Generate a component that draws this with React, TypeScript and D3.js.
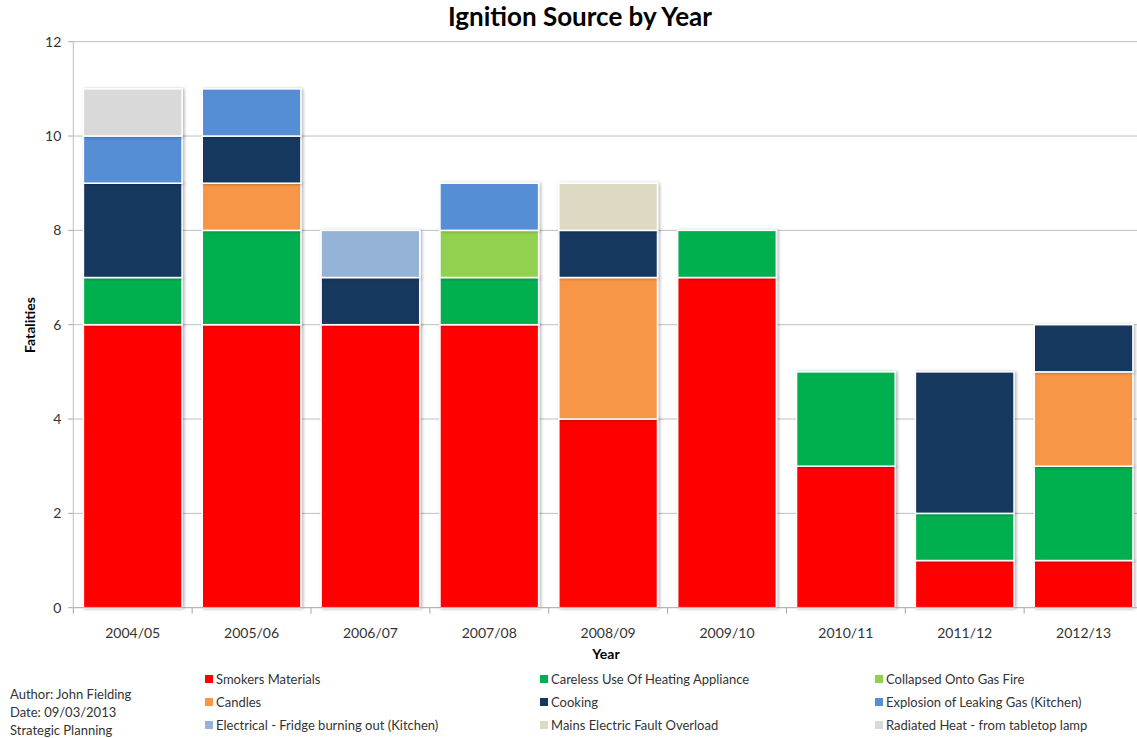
import React from "react";
import * as d3 from "d3";

const years = ["2004/05", "2005/06", "2006/07", "2007/08", "2008/09", "2009/10", "2010/11", "2011/12", "2012/13"];
const seriesNames = [
  "Smokers Materials",
  "Careless Use Of Heating Appliance",
  "Collapsed Onto Gas Fire",
  "Candles",
  "Cooking",
  "Explosion of Leaking Gas (Kitchen)",
  "Electrical - Fridge burning out (Kitchen)",
  "Mains Electric Fault Overload",
  "Radiated Heat - from tabletop lamp",
];
const smokers = [6, 6, 6, 6, 4, 7, 3, 1, 1];
const careless = [1, 2, 0, 1, 0, 1, 2, 1, 2];
const collapsed = [0, 0, 0, 1, 0, 0, 0, 0, 0];
const candles = [0, 1, 0, 0, 3, 0, 0, 0, 2];
const cooking = [2, 1, 1, 0, 1, 0, 0, 3, 1];
const explosion = [1, 1, 0, 1, 0, 0, 0, 0, 0];
const electrical = [0, 0, 1, 0, 0, 0, 0, 0, 0];
const mains = [0, 0, 0, 0, 1, 0, 0, 0, 0];
const radiated = [1, 0, 0, 0, 0, 0, 0, 0, 0];
const seriesValues = [smokers, careless, collapsed, candles, cooking, explosion, electrical, mains, radiated];
const colors = ["#FF0000", "#00B050", "#92D050", "#F79646", "#17375E", "#558ED5", "#95B3D7", "#DDD9C3", "#D9D9D9"];
const yTicks = [0, 2, 4, 6, 8, 10, 12];

const legendOrder = [0, 1, 2, 3, 4, 5, 6, 7, 8];

export default function App() {
  const W = 1137, H = 738;
  const left = 73.3, right = 1143, top = 41.7, bottom = 607.7;
  const font = "Lato, 'Open Sans', sans-serif";

  const x = d3.scaleBand<string>().domain(years).range([left, right]).paddingInner(0.17).paddingOuter(0.085);
  const y = d3.scaleLinear().domain([0, 12]).range([bottom, top]);
  const xBand = d3.scaleBand<string>().domain(years).range([left, right]);

  const table = years.map((yr, i) => {
    const o: any = { year: yr };
    seriesNames.forEach((s, j) => (o[s] = seriesValues[j][i]));
    return o;
  });
  const stack = d3.stack<any>().keys(seriesNames)(table);

  const legendX = [205, 540, 875];
  const legendY = [679, 702, 725];

  return (
    <svg width={W} height={H} style={{ position: "absolute", left: 0, top: 0, background: "#fff" }} fontFamily={font}>
      <defs>
        <filter id="sh" x="-10%" y="-10%" width="130%" height="130%">
          <feDropShadow dx="1.5" dy="0.5" stdDeviation="1.5" floodColor="#000" floodOpacity="0.3" />
        </filter>
      </defs>
      <rect width={W} height={H} fill="#fff" />
      <text x={580} y={26} textAnchor="middle" fontSize={26} fontWeight="bold" fill="#000">Ignition Source by Year</text>

      {yTicks.map((t) => (
        <g key={t}>
          {t > 0 && <line x1={left} x2={W} y1={y(t)} y2={y(t)} stroke="#BFBFBF" strokeWidth={1} />}
          <line x1={left - 5} x2={left} y1={y(t)} y2={y(t)} stroke="#A6A6A6" />
          <text x={left - 12} y={y(t)} dy="0.35em" textAnchor="end" fontSize={14} fill="#333">{t}</text>
        </g>
      ))}
      <line x1={left} x2={left} y1={top} y2={bottom} stroke="#BFBFBF" />

      {stack.map((layer, j) => (
        <g key={j}>
          {layer.map((d, i) =>
            d[1] - d[0] > 0 ? (
              <rect
                key={i}
                x={x(years[i])!}
                y={y(d[1])}
                width={x.bandwidth()}
                height={y(d[0]) - y(d[1])}
                fill={colors[j]}
                stroke="#fff"
                strokeWidth={1.5}
                filter="url(#sh)"
              />
            ) : null
          )}
        </g>
      ))}

      <line x1={left} x2={W} y1={bottom} y2={bottom} stroke="#A6A6A6" />
      {years.map((yr) => (
        <g key={yr}>
          <line x1={xBand(yr)!} x2={xBand(yr)!} y1={bottom} y2={bottom + 6} stroke="#A6A6A6" />
          <text x={xBand(yr)! + xBand.bandwidth() / 2} y={633} dy="0.35em" textAnchor="middle" fontSize={14} fill="#333">{yr}</text>
        </g>
      ))}

      <text x={606} y={654} dy="0.35em" textAnchor="middle" fontSize={14} fontWeight="bold" fill="#000">Year</text>
      <text transform={`translate(30,325) rotate(-90)`} dy="0.35em" textAnchor="middle" fontSize={14} fontWeight="bold" fill="#000">Fatalities</text>

      {legendOrder.map((k, idx) => {
        const cx = legendX[idx % 3];
        const cy = legendY[Math.floor(idx / 3)];
        return (
          <g key={k}>
            <rect x={cx} y={cy - 4} width={8} height={8} fill={colors[k]} />
            <text x={cx + 11} y={cy} dy="0.35em" fontSize={13} fill="#333">{seriesNames[k]}</text>
          </g>
        );
      })}

      <text x={10} y={694} dy="0.35em" fontSize={13} fill="#333">Author: John Fielding</text>
      <text x={10} y={712} dy="0.35em" fontSize={13} fill="#333">Date: 09/03/2013</text>
      <text x={10} y={730} dy="0.35em" fontSize={13} fill="#333">Strategic Planning</text>
    </svg>
  );
}
